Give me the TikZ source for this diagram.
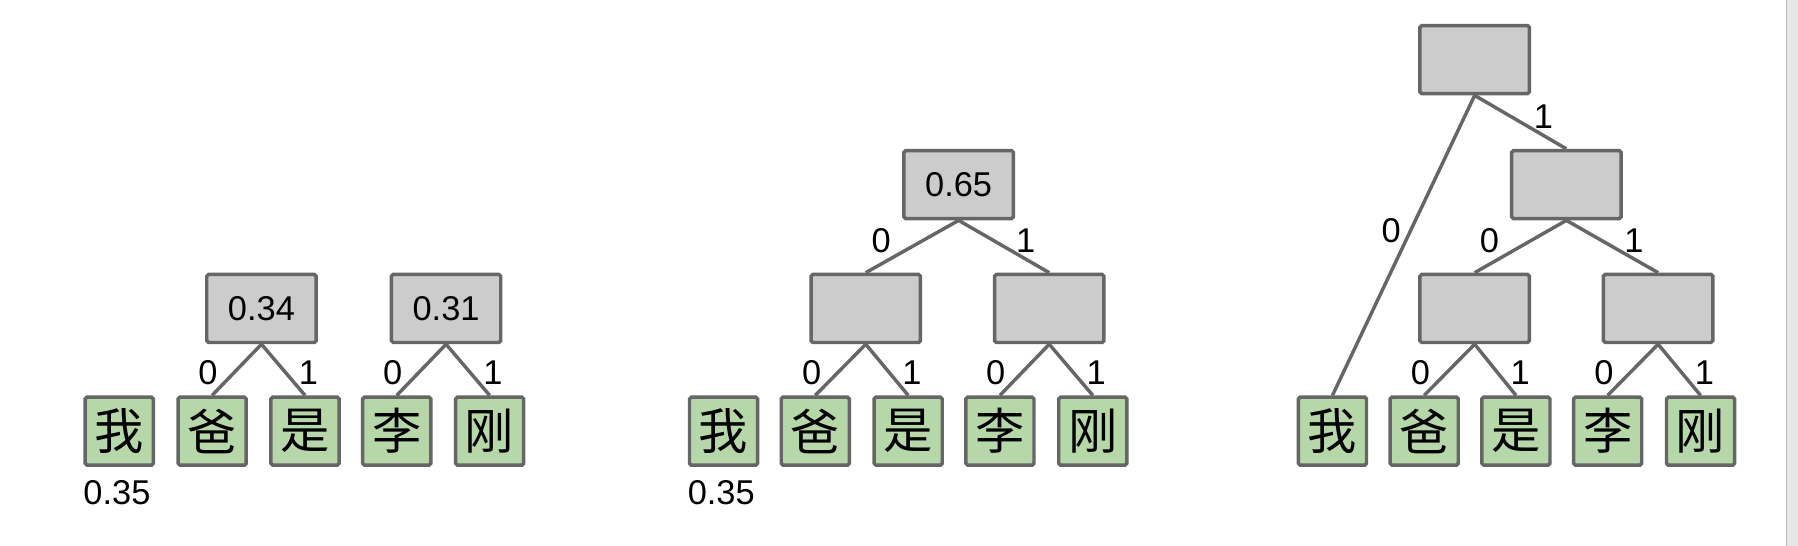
\documentclass[tikz,border=0pt]{standalone}
\usepackage{fontspec}
\setmainfont{Liberation Sans}
\newfontfamily\cjk{Noto Sans CJK SC}
\definecolor{edgegray}{HTML}{666666}
\definecolor{boxgray}{HTML}{CCCCCC}
\definecolor{leafgreen}{HTML}{B6D7A8}
\definecolor{rulegray}{HTML}{BDBDBD}
\definecolor{stripgray}{HTML}{E6E6E6}
\begin{document}
\begin{tikzpicture}[x=0.5pt,y=-0.5pt,
  leaf/.style={draw=edgegray,fill=leafgreen,line width=1.5pt,rounded corners=0.8pt,minimum width=29.7pt,minimum height=29.7pt,inner sep=0pt,font=\cjk\fontsize{21.5}{21.5}\selectfont},
  inner/.style={draw=edgegray,fill=boxgray,line width=1.5pt,rounded corners=0.8pt,minimum width=47.7pt,minimum height=29.7pt,inner sep=0pt,font=\fontsize{15}{15}\selectfont},
  conn/.style={draw=edgegray,line width=1.5pt},
  lbl/.style={font=\fontsize{15}{15}\selectfont,inner sep=0pt},
  prob/.style={font=\fontsize{15}{15}\selectfont,inner sep=0pt}]
\useasboundingbox (0,0) rectangle (1568,476);
\fill[white] (0,0) rectangle (1568,476);
\fill[stripgray] (1558,0) rectangle (1568,476);
\draw[rulegray,line width=0.8pt] (1558,0) -- (1558,476);
% panel 1
\node[leaf] (a1) at (104,376) {我};
\node[leaf] (a2) at (185,376) {爸};
\node[leaf] (a3) at (266,376) {是};
\node[leaf] (a4) at (346,376) {李};
\node[leaf] (a5) at (427,376) {刚};
\node[inner] (ai1) at (228,269) {0.34};
\node[inner] (ai2) at (389,269) {0.31};
\node[prob] (ap) at (102,430) {0.35};
\draw[conn] (ai1.south) -- node[lbl,pos=0.55,xshift=-23pt*0.5] {0} (a2.north);
\draw[conn] (ai1.south) -- node[lbl,pos=0.55,xshift=20pt*0.5] {1} (a3.north);
\draw[conn] (ai2.south) -- node[lbl,pos=0.55,xshift=-23pt*0.5] {0} (a4.north);
\draw[conn] (ai2.south) -- node[lbl,pos=0.55,xshift=20pt*0.5] {1} (a5.north);
% panel 2
\node[leaf] (b1) at (631,376) {我};
\node[leaf] (b2) at (711,376) {爸};
\node[leaf] (b3) at (792,376) {是};
\node[leaf] (b4) at (872,376) {李};
\node[leaf] (b5) at (953,376) {刚};
\node[inner] (bi1) at (755,269) {};
\node[inner] (bi2) at (915,269) {};
\node[inner] (bt) at (836,161) {0.65};
\node[prob] (bp) at (629,430) {0.35};
\draw[conn] (bi1.south) -- node[lbl,pos=0.55,xshift=-23pt*0.5] {0} (b2.north);
\draw[conn] (bi1.south) -- node[lbl,pos=0.55,xshift=20pt*0.5] {1} (b3.north);
\draw[conn] (bi2.south) -- node[lbl,pos=0.55,xshift=-23pt*0.5] {0} (b4.north);
\draw[conn] (bi2.south) -- node[lbl,pos=0.55,xshift=20pt*0.5] {1} (b5.north);
\draw[conn] (bt.south) -- node[lbl,pos=0.5,xshift=-27pt*0.5,yshift=5pt*0.5] {0} (bi1.north);
\draw[conn] (bt.south) -- node[lbl,pos=0.5,xshift=19pt*0.5,yshift=5pt*0.5] {1} (bi2.north);
% panel 3
\node[leaf] (c1) at (1162,376) {我};
\node[leaf] (c2) at (1242,376) {爸};
\node[leaf] (c3) at (1322,376) {是};
\node[leaf] (c4) at (1402,376) {李};
\node[leaf] (c5) at (1483,376) {刚};
\node[inner] (ci1) at (1286,269) {};
\node[inner] (ci2) at (1446,269) {};
\node[inner] (cm) at (1366,161) {};
\node[inner] (ct) at (1286,52) {};
\draw[conn] (ci1.south) -- node[lbl,pos=0.55,xshift=-23pt*0.5] {0} (c2.north);
\draw[conn] (ci1.south) -- node[lbl,pos=0.55,xshift=20pt*0.5] {1} (c3.north);
\draw[conn] (ci2.south) -- node[lbl,pos=0.55,xshift=-23pt*0.5] {0} (c4.north);
\draw[conn] (ci2.south) -- node[lbl,pos=0.55,xshift=20pt*0.5] {1} (c5.north);
\draw[conn] (cm.south) -- node[lbl,pos=0.5,xshift=-27pt*0.5,yshift=5pt*0.5] {0} (ci1.north);
\draw[conn] (cm.south) -- node[lbl,pos=0.5,xshift=19pt*0.5,yshift=5pt*0.5] {1} (ci2.north);
\draw[conn] (ct.south) -- node[lbl,pos=0.45,xshift=-17pt*0.5] {0} (c1.north);
\draw[conn] (ct.south) -- node[lbl,pos=0.5,xshift=20pt*0.5,yshift=5pt*0.5] {1} (cm.north);
\end{tikzpicture}
\end{document}
